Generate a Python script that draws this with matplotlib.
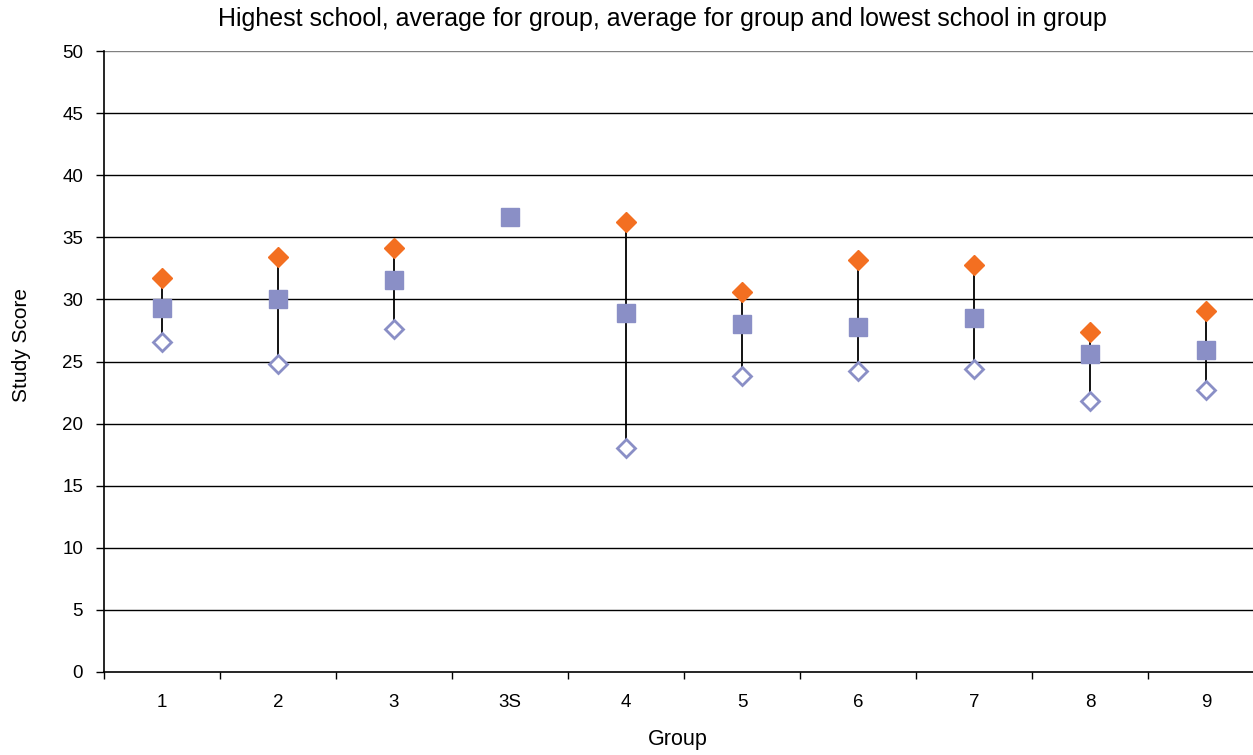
import numpy as np
import matplotlib.pyplot as plt

groups = ["1", "2", "3", "3S", "4", "5", "6", "7", "8", "9"]
highest = [31.7, 33.4, 34.1, np.nan, 36.2, 30.6, 33.2, 32.8, 27.4, 29.1]
average = [29.3, 30.0, 31.6, 36.6, 28.9, 28.0, 27.8, 28.5, 25.6, 25.9]
lowest = [26.6, 24.8, 27.6, np.nan, 18.0, 23.8, 24.2, 24.4, 21.8, 22.7]

plt.rcParams['font.family'] = ['Liberation Sans', 'DejaVu Sans']

W, H = 1253, 755
fig = plt.figure(figsize=(W / 100, H / 100), dpi=100)
ax = fig.add_axes([104 / W, (H - 672) / H, 1160 / W, 621 / H])

x = np.arange(len(groups))
hi = np.array(highest)
lo = np.array(lowest)
ok = ~np.isnan(hi) & ~np.isnan(lo)
ax.vlines(x[ok], lo[ok], hi[ok], color="black", lw=1.3, zorder=2)

ax.plot(x, highest, ls="none", marker="D", ms=10.5, color="#F36F21", zorder=3)
ax.plot(x, average, ls="none", marker="s", ms=13.5, color="#8A8FC6", zorder=3)
ax.plot(x, lowest, ls="none", marker="D", ms=9.5, mfc="white", mec="#8A8FC6",
        mew=2, zorder=3)

ax.set_xlim(-0.5, len(groups) - 0.5)
ax.set_ylim(0, 50)
ax.set_yticks(np.arange(0, 51, 5))
ax.set_xticks(x)
ax.set_xticklabels(groups)
ax.set_xticks(np.arange(-0.5, len(groups), 1), minor=True)
ax.tick_params(axis="x", which="major", length=0, pad=16, labelsize=13.5)
ax.tick_params(axis="x", which="minor", length=5, width=1, direction="out")
ax.tick_params(axis="y", length=6, width=1, direction="out", pad=9, labelsize=13.5)

for v in np.arange(5, 51, 5):
    ax.axhline(v, color="#808080" if v == 50 else "black", lw=1, zorder=1)

for s in ["top", "right"]:
    ax.spines[s].set_visible(False)
ax.spines["left"].set_linewidth(1.2)
ax.spines["bottom"].set_linewidth(1.2)

fig.text(662 / W, 1 - 19 / H, "Highest school, average for group, average for group and lowest school in group",
         fontsize=18, ha="center", va="center")
fig.text(22 / W, 1 - 345 / H, "Study Score", fontsize=15, rotation=90, ha="center", va="center")
fig.text(678 / W, 1 - 740 / H, "Group", fontsize=15.5, ha="center", va="center")

fig.savefig("out.png", dpi=100)
